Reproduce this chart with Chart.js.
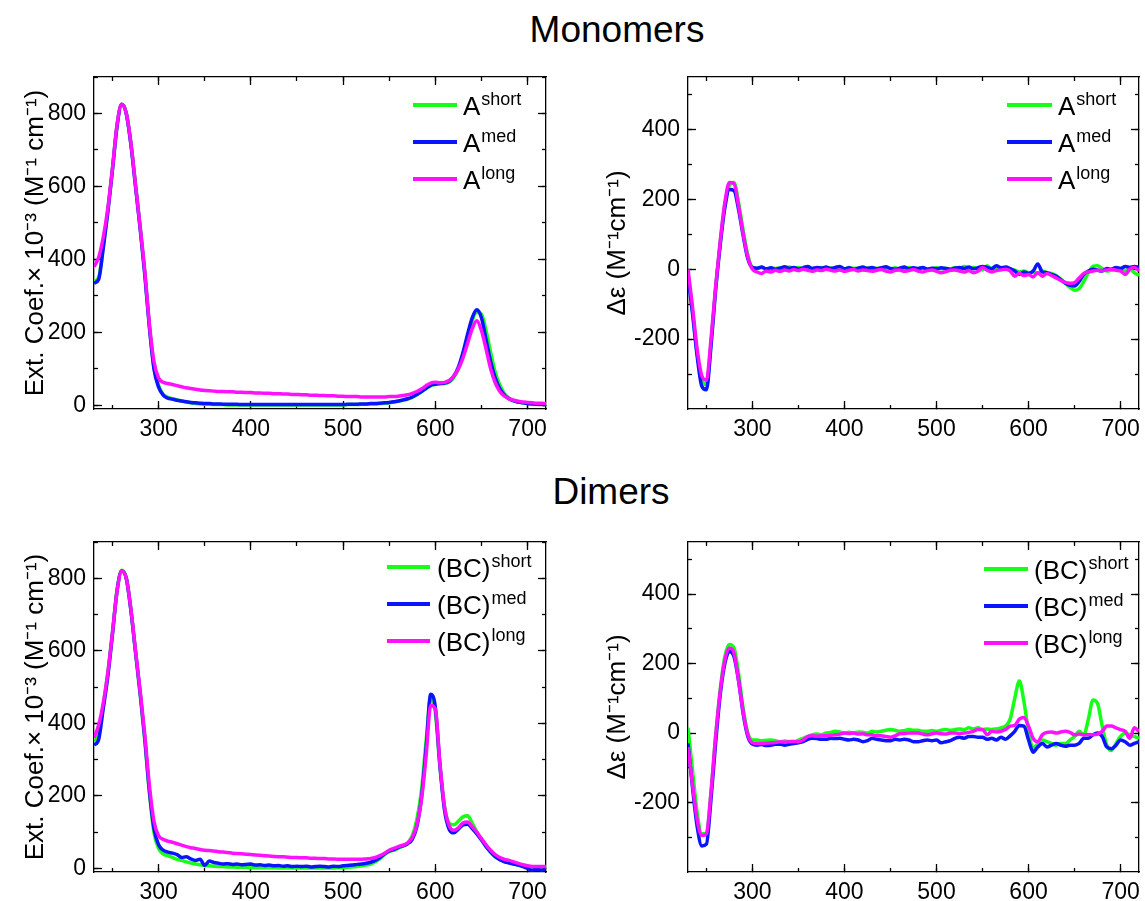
<!DOCTYPE html>
<html>
<head>
<meta charset="utf-8">
<script src="https://cdn.jsdelivr.net/npm/chart.js@4"></script>
<style>
  body { margin: 0; background: #fff; width: 1145px; height: 901px; position: relative; overflow: hidden;
         font-family: "Liberation Sans", Arial, sans-serif; }
  .panel { position: absolute; }
  .head { position: absolute; width: 300px; text-align: center; font-size: 37px; line-height: 40px; color: #000; }
</style>
</head>
<body>
<div class="head" style="left:467px; top:10px;">Monomers</div>
<div class="head" style="left:461px; top:472px;">Dimers</div>
<div class="panel" style="left:0; top:60px; width:572px; height:400px;"><canvas id="absA"></canvas></div>
<div class="panel" style="left:572px; top:60px; width:573px; height:400px;"><canvas id="cdA"></canvas></div>
<div class="panel" style="left:0; top:525px; width:572px; height:376px;"><canvas id="absBC"></canvas></div>
<div class="panel" style="left:572px; top:525px; width:573px; height:376px;"><canvas id="cdBC"></canvas></div>
<script>
// wavelength grid (nm), shared by every series
const wavelengths = [
  230, 235, 240, 245, 250, 255, 260, 265, 270, 275,
  280, 285, 290, 295, 300, 305, 310, 315, 320, 325,
  330, 335, 340, 345, 350, 355, 360, 365, 370, 375,
  380, 385, 390, 395, 400, 405, 410, 415, 420, 425,
  430, 435, 440, 445, 450, 455, 460, 465, 470, 475,
  480, 485, 490, 495, 500, 505, 510, 515, 520, 525,
  530, 535, 540, 545, 550, 555, 560, 565, 570, 575,
  580, 585, 590, 595, 600, 605, 610, 615, 620, 625,
  630, 635, 640, 645, 650, 655, 660, 665, 670, 675,
  680, 685, 690, 695, 700, 705, 710, 715, 720
];

// tick values
const xTicks = [300, 400, 500, 600, 700];
const xMinorTicks = [250, 300, 350, 400, 450, 500, 550, 600, 650, 700];
const absTicks = [0, 200, 400, 600, 800];
const absMinorTicks = [0, 100, 200, 300, 400, 500, 600, 700, 800, 900];
const cdTicks = [-200, 0, 200, 400];
const cdMinorTicks = [-300, -200, -100, 0, 100, 200, 300, 400, 500];

// Monomers, absorption (ext. coef. x 10^-3)
const absShortA = [
  340, 350, 435, 535, 648, 768, 825, 800, 718, 605,
  490, 365, 220, 105, 55, 30, 22, 18, 15, 12,
  9, 7, 5, 4, 3, 3, 2, 2, 2, 1,
  1, 1, 1, 1, 1, 1, 1, 1, 1, 1,
  1, 1, 1, 1, 1, 1, 1, 1, 1, 1,
  1, 1, 1, 1, 1, 2, 2, 2, 3, 3,
  4, 4, 5, 6, 7, 9, 11, 14, 17, 22,
  29, 37, 46, 54, 57, 59, 60, 64, 76, 100,
  138, 185, 232, 255, 250, 205, 145, 90, 55, 32,
  20, 13, 9, 7, 5, 4, 3, 3, 2
];
const absMedA = [
  335, 345, 430, 530, 645, 765, 825, 800, 715, 600,
  485, 360, 215, 100, 50, 28, 20, 17, 14, 12,
  10, 8, 7, 6, 5, 5, 4, 4, 3, 3,
  3, 3, 2, 2, 2, 2, 2, 2, 2, 2,
  2, 2, 2, 2, 2, 2, 2, 2, 2, 2,
  2, 2, 2, 2, 2, 3, 3, 3, 4, 4,
  5, 5, 6, 7, 8, 10, 12, 15, 18, 23,
  30, 38, 47, 55, 58, 60, 61, 66, 80, 105,
  145, 195, 240, 262, 240, 180, 120, 75, 45, 28,
  18, 12, 9, 7, 5, 4, 3, 3, 2
];
const absLongA = [
  380, 405, 460, 540, 650, 770, 825, 800, 720, 605,
  490, 370, 225, 120, 75, 63, 60, 57, 54, 51,
  48, 46, 44, 42, 41, 40, 39, 38, 38, 37,
  37, 36, 36, 35, 35, 34, 34, 33, 33, 32,
  32, 31, 31, 30, 30, 29, 29, 28, 28, 27,
  27, 26, 26, 25, 25, 24, 24, 24, 23, 23,
  23, 23, 23, 23, 24, 24, 25, 27, 29, 33,
  38, 45, 54, 61, 63, 62, 63, 68, 80, 100,
  130, 170, 210, 232, 205, 155, 100, 62, 38, 25,
  18, 14, 11, 9, 8, 7, 6, 6, 5
];

// Monomers, CD (delta epsilon)
const cdShortA = [
  -10, -120, -240, -320, -330, -210, -55, 75, 185, 240,
  248, 190, 110, 40, 5, 2, 5, 0, 3, 2,
  4, 1, 6, 3, 5, 2, 4, 0, 3, 5,
  2, 4, 1, 3, 0, 5, 2, 3, 1, 4,
  0, 3, 2, 5, 1, 4, 0, 2, 5, 3,
  1, 3, 0, 2, 4, 1, 3, 0, 5, 2,
  8, 3, 5, 0, -2, 10, 0, 3, 5, 2,
  0, -3, -8, -5, -10, -8, -12, -5, -10, -12,
  -18, -28, -40, -52, -60, -55, -35, -10, 8, 10,
  2, -5, -3, 0, 2, -5, 0, -10, -18
];
const cdMedA = [
  -20, -130, -250, -335, -345, -220, -60, 70, 175, 228,
  225, 170, 95, 30, 5, 3, 6, 1, 4, 0,
  3, 7, 2, 5, 0, 4, 8, 2, 5, 3,
  6, 2, 5, 8, 1, 4, 0, 3, 6, 2,
  5, 1, 4, 7, 2, 0, 3, 6, 1, 4,
  2, 5, 0, 3, 1, 4, 2, 0, 3, 5,
  2, 6, 1, 4, 8, 5, 2, 10, 4, 6,
  2, -5, -15, -8, -12, -5, 15, -8, -10, -15,
  -20, -30, -40, -46, -48, -35, -15, -5, 0, -3,
  -5, 2, 0, 5, 2, 8, 5, 8, 5
];
const cdLongA = [
  0, -110, -230, -305, -318, -200, -50, 80, 190, 248,
  245, 180, 100, 35, 0, -8, -12, -5, -8, -3,
  -6, -2, -5, -1, -4, 0, -3, -6, -2, -4,
  0, -3, -5, -2, -6, -3, -1, -5, -2, -4,
  -6, -3, -1, -5, -8, -3, -2, -6, -4, -1,
  -5, -8, -4, -2, -6, -10, -7, -3, -2, -5,
  -8, -4, -10, -6, 5, -3, -8, -4, -2, 0,
  -5, -20, -12, -18, -15, -22, -10, -20, -12, -18,
  -25, -32, -38, -40, -38, -25, -12, -8, -5, -3,
  -4, -2, 0, -3, -5, -15, 0, 5, -5
];

// Dimers, absorption
const absShortBC = [
  350, 370, 450, 540, 650, 768, 822, 800, 712, 595,
  480, 355, 210, 100, 55, 40, 35, 30, 25, 22,
  18, 15, 12, 10, 8, 7, 6, 5, 5, 4,
  4, 3, 3, 3, 2, 2, 2, 2, 2, 2,
  1, 1, 1, 1, 1, 1, 1, 1, 1, 1,
  1, 1, 1, 2, 2, 3, 4, 5, 7, 9,
  12, 18, 27, 38, 46, 50, 56, 62, 70, 90,
  135, 215, 350, 470, 430, 280, 170, 125, 120, 130,
  142, 145, 125, 100, 80, 62, 45, 32, 25, 20,
  16, 12, 9, 7, 5, 4, 3, 3, 3
];
const absMedBC = [
  340, 355, 440, 530, 645, 765, 820, 800, 712, 598,
  485, 360, 215, 110, 65, 50, 45, 42, 38, 30,
  32, 26, 22, 25, 8, 20, 16, 14, 12, 13,
  11, 12, 10, 11, 12, 9, 10, 8, 9, 7,
  8, 6, 7, 5, 6, 5, 6, 4, 5, 6,
  5, 4, 6, 5, 7, 8, 9, 11, 12, 14,
  17, 22, 30, 40, 48, 52, 58, 62, 68, 80,
  115, 195, 330, 480, 445, 285, 160, 108, 98, 108,
  120, 122, 110, 95, 78, 60, 45, 32, 24, 18,
  15, 12, 9, 5, 0, -5, -3, -5, 0
];
const absLongBC = [
  360, 395, 455, 540, 650, 765, 820, 800, 715, 600,
  490, 370, 230, 130, 90, 80, 75, 72, 68, 64,
  60, 57, 55, 52, 50, 49, 48, 46, 45, 44,
  42, 41, 40, 39, 38, 37, 36, 35, 34, 33,
  32, 32, 31, 30, 30, 29, 29, 28, 28, 27,
  27, 26, 26, 25, 25, 25, 25, 25, 25, 26,
  27, 30, 35, 42, 50, 55, 60, 64, 70, 85,
  120, 190, 310, 450, 440, 290, 170, 118, 105, 112,
  125, 128, 115, 100, 82, 65, 50, 38, 30, 25,
  22, 18, 14, 10, 7, 5, 5, 5, 5
];

// Dimers, CD
const cdShortBC = [
  15, -110, -230, -290, -290, -170, -10, 125, 220, 255,
  245, 170, 70, 0, -20, -20, -22, -21, -20, -22,
  -25, -23, -25, -28, -20, -15, -10, -5, -3, -5,
  0, 2, 5, 3, 0, 2, 0, 3, 2, 0,
  5, 3, 5, 8, 10, 8, 5, 7, 10, 8,
  8, 5, 5, 7, 5, 8, 10, 8, 10, 12,
  10, 15, 12, 15, 10, 12, 10, 12, 15, 20,
  40, 100, 150, 90, 5, -45, -30, -20, -25, -30,
  -35, -30, -30, -20, -10, 5, -5, 40, 95, 85,
  20, -35, -50, -30, -10, 0, -5, -10, -15
];
const cdMedBC = [
  -30, -160, -270, -325, -320, -190, -30, 110, 200, 235,
  220, 150, 55, -10, -32, -35, -33, -36, -35, -32,
  -32, -35, -32, -30, -28, -25, -18, -15, -16, -18,
  -18, -15, -16, -15, -18, -20, -18, -20, -25, -22,
  -15, -18, -20, -22, -22, -18, -20, -18, -20, -25,
  -25, -22, -20, -22, -20, -28, -25, -22, -15, -12,
  -15, -10, -10, -12, -12, -18, -15, -20, -12, -18,
  -8, 5, 22, 20, -20, -55, -40, -30, -40, -35,
  -30, -35, -38, -35, -35, -30, -15, -15, -5, 0,
  -10, -40, -45, -35, -20, -25, -35, -30, -25
];
const cdLongBC = [
  -40, -150, -250, -295, -290, -170, -10, 120, 210, 245,
  230, 150, 60, -5, -28, -30, -30, -29, -28, -27,
  -25, -26, -25, -24, -25, -20, -10, -8, -9, -8,
  -8, -6, -5, -3, 0, -1, 0, -3, -2, -5,
  -5, -8, -8, -10, -12, -8, -2, -1, 0, 0,
  0, -3, -5, -2, 0, -2, -3, 0, 0, -1,
  0, 2, 5, 10, 10, -5, 5, 3, 5, 10,
  20, 22, 40, 45, 20, -15, -25, -5, 2, 3,
  0, 3, 5, 2, -5, -3, -5, -4, -5, -3,
  5, 20, 20, 15, 10, 5, -15, 15, 5
];

const seriesNames = ['short', 'med', 'long'];
const seriesColors = ['#16ff16', '#0a14ff', '#ff10ff'];
const FONT = '"Liberation Sans", Arial, sans-serif';

function points(values) {
  return wavelengths.map((w, i) => ({ x: w, y: values[i] }));
}

// legend with superscript labels, drawn on the chart canvas
const superLegend = {
  id: 'superLegend',
  afterDraw(chart, args, opts) {
    const ctx = chart.ctx;
    ctx.save();
    seriesNames.forEach((name, i) => {
      const y = opts.y + i * opts.dy;
      ctx.strokeStyle = seriesColors[i];
      ctx.lineWidth = 4;
      ctx.beginPath();
      ctx.moveTo(opts.x, y);
      ctx.lineTo(opts.x + opts.len, y);
      ctx.stroke();
      ctx.fillStyle = '#000';
      ctx.textBaseline = 'alphabetic';
      ctx.font = '26px ' + FONT;
      ctx.fillText(opts.base, opts.tx, y + 10);
      const w = ctx.measureText(opts.base).width;
      ctx.font = '18px ' + FONT;
      ctx.fillText(name, opts.tx + w + 1, y);
    });
    ctx.restore();
  }
};

function setTicks(values) {
  return s => { s.ticks = values.map(v => ({ value: v })); };
}

// fixed box size, and no extra room asked for overhanging labels
function fixSize(s, axis, size) {
  if (axis === 'x') s.height = size; else s.width = size;
  s.paddingLeft = 0; s.paddingRight = 0; s.paddingTop = 0; s.paddingBottom = 0;
}

function tickOnly(axis, position, min, max, values, len, weight, border) {
  return {
    type: 'linear', axis: axis, position: position, min: min, max: max, weight: weight,
    ticks: { display: false, autoSkip: false },
    afterBuildTicks: setTicks(values),
    grid: { drawOnChartArea: false, drawTicks: true, tickLength: -len, tickColor: '#000', tickWidth: 1.3 },
    border: { display: border, color: '#000', width: 1.3 },
    afterFit: s => fixSize(s, axis, 0)
  };
}

function boxScales(cfg) {
  const tickFont = { family: FONT, size: 23 };
  return {
    x: {
      type: 'linear', position: 'bottom', min: 230, max: 720, weight: 1,
      ticks: { autoSkip: false, maxRotation: 0, color: '#000', padding: 15, font: tickFont,
               callback: v => String(v) },
      afterBuildTicks: setTicks(xTicks),
      grid: { drawOnChartArea: false, tickLength: -8, tickColor: '#000', tickWidth: 1.3 },
      border: { color: '#000', width: 1.3 },
      afterFit: s => fixSize(s, 'x', cfg.xHeight)
    },
    xMinor: tickOnly('x', 'bottom', 230, 720, xMinorTicks, 4, 0, false),
    xTop: tickOnly('x', 'top', 230, 720, xTicks, 8, 0, true),
    xTopMinor: tickOnly('x', 'top', 230, 720, xMinorTicks, 4, 0, false),
    y: {
      type: 'linear', position: 'left', min: cfg.yMin, max: cfg.yMax, weight: 1,
      ticks: { autoSkip: false, color: '#000', padding: 16, font: tickFont,
               callback: v => String(v) },
      afterBuildTicks: setTicks(cfg.yTicks),
      grid: { drawOnChartArea: false, tickLength: -8, tickColor: '#000', tickWidth: 1.3 },
      border: { color: '#000', width: 1.3 },
      title: { display: true, text: cfg.yTitle, color: '#000', font: { family: FONT, size: 26 },
               padding: { top: cfg.titlePad, bottom: 0 } },
      afterFit: s => fixSize(s, 'y', cfg.yWidth)
    },
    yMinor: tickOnly('y', 'left', cfg.yMin, cfg.yMax, cfg.yMinorTicks, 4, 0, false),
    yRight: tickOnly('y', 'right', cfg.yMin, cfg.yMax, cfg.yTicks, 8, 0, true),
    yRightMinor: tickOnly('y', 'right', cfg.yMin, cfg.yMax, cfg.yMinorTicks, 4, 0, false)
  };
}

function makeChart(id, series, cfg) {
  const order = [2, 1, 0];
  return new Chart(document.getElementById(id), {
    type: 'line',
    data: {
      datasets: series.map((values, i) => ({
        label: seriesNames[i],
        data: points(values),
        borderColor: seriesColors[i],
        order: order[i]
      }))
    },
    options: {
      responsive: true,
      maintainAspectRatio: false,
      animation: false,
      devicePixelRatio: 1,
      layout: { padding: { top: 17, right: cfg.padRight, left: 0, bottom: 0 } },
      elements: {
        point: { radius: 0 },
        line: { borderWidth: 3.5, cubicInterpolationMode: 'monotone' }
      },
      plugins: {
        legend: { display: false },
        tooltip: { enabled: false },
        superLegend: cfg.legend
      },
      scales: boxScales(cfg)
    },
    plugins: [superLegend]
  });
}

const absTitle = 'Ext. Coef.\u00d7 10\u207b\u00b3 (M\u207b\u00b9 cm\u207b\u00b9)';
const cdTitle = '\u0394\u03b5 (M\u207b\u00b9cm\u207b\u00b9)';

makeChart('absA', [absShortA, absMedA, absLongA], {
  yMin: -10, yMax: 900, yTicks: absTicks, yMinorTicks: absMinorTicks, yTitle: absTitle,
  yWidth: 94, xHeight: 51, titlePad: 20, padRight: 26,
  legend: { x: 413, y: 45, dy: 37, len: 44, tx: 463, base: 'A' }
});
makeChart('cdA', [cdShortA, cdMedA, cdLongA], {
  yMin: -400, yMax: 550, yTicks: cdTicks, yMinorTicks: cdMinorTicks, yTitle: cdTitle,
  yWidth: 116, xHeight: 51, titlePad: 30, padRight: 6,
  legend: { x: 435, y: 45, dy: 37, len: 45, tx: 486, base: 'A' }
});
makeChart('absBC', [absShortBC, absMedBC, absLongBC], {
  yMin: -10, yMax: 900, yTicks: absTicks, yMinorTicks: absMinorTicks, yTitle: absTitle,
  yWidth: 94, xHeight: 29, titlePad: 20, padRight: 26,
  legend: { x: 387, y: 42, dy: 37, len: 43, tx: 437, base: '(BC)' }
});
makeChart('cdBC', [cdShortBC, cdMedBC, cdLongBC], {
  yMin: -400, yMax: 550, yTicks: cdTicks, yMinorTicks: cdMinorTicks, yTitle: cdTitle,
  yWidth: 116, xHeight: 29, titlePad: 30, padRight: 6,
  legend: { x: 412, y: 44, dy: 37, len: 44, tx: 462, base: '(BC)' }
});
</script>
</body>
</html>
